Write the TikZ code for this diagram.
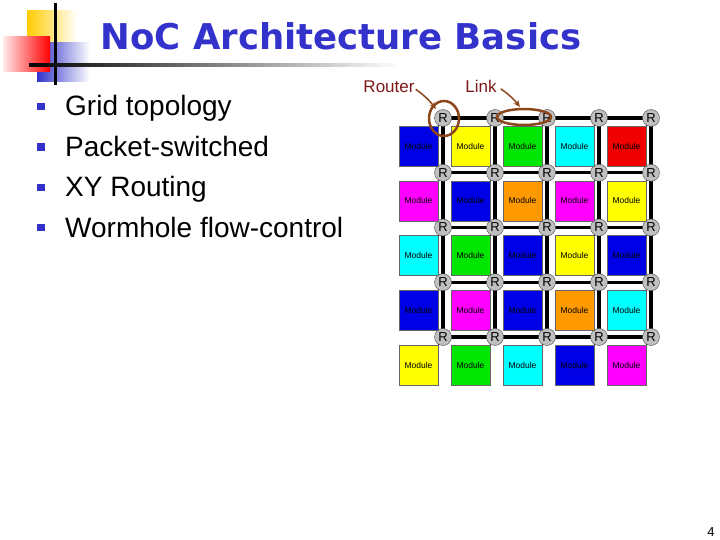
\documentclass[tikz,border=0pt]{standalone}
\usepackage{fontspec}
\setmainfont{Liberation Sans}
\newfontfamily\titlefont{DejaVu Sans}
\usetikzlibrary{calc,arrows.meta,backgrounds}

\definecolor{titleblue}{RGB}{51,51,204}
\definecolor{annotred}{RGB}{125,25,25}
\definecolor{ringbrown}{RGB}{140,70,25}
\definecolor{logoyellow}{RGB}{255,204,0}
\definecolor{mblue}{RGB}{0,0,230}
\definecolor{myellow}{RGB}{255,255,0}
\definecolor{mgreen}{RGB}{0,230,0}
\definecolor{mcyan}{RGB}{0,255,255}
\definecolor{mred}{RGB}{240,0,0}
\definecolor{mmagenta}{RGB}{255,0,255}
\definecolor{morange}{RGB}{255,153,0}

\tikzset{
    module/.style={draw=black!60, fill=#1, minimum width=39pt, minimum height=40pt,
        inner sep=0pt, font=\fontsize{8.5}{9}\selectfont},
    router/.style={circle, draw=black!70, fill=black!25, minimum size=17pt,
        inner sep=0pt, font=\fontsize{13}{13}\selectfont},
    wire/.style={line width=3.5pt, line cap=rect},
    ring/.style={ringbrown, line width=2.5pt},
    annot/.style={text=annotred, font=\fontsize{17}{17}\selectfont, inner sep=0pt},
    bulletbox/.style={fill=titleblue, minimum size=7.5pt, inner sep=0pt},
    itemtext/.style={font=\fontsize{28}{28}\selectfont, inner sep=0pt, anchor=base west},
}

\begin{document}
\begin{tikzpicture}[x=1pt, y=-1pt]
    \useasboundingbox (0,0) rectangle (720,540);

    % logo
    \shade[left color=logoyellow, middle color=logoyellow, right color=white] (27,11) rectangle (77,58);
    \shade[left color=titleblue, middle color=titleblue, right color=white] (37,43) rectangle (90,82);
    \shade[left color=red!8, right color=red] (3,37) rectangle (50,72);
    \draw[line width=3pt] (55,3) -- (55,85);
    \shade[left color=black, right color=white] (29,63.5) rectangle (400,66.5);

    % title
    \node[text=titleblue, font=\titlefont\bfseries\fontsize{35.5}{36}\selectfont, anchor=base, inner sep=0pt]
        (title) at (341,50) {NoC Architecture Basics};

    % bullets
    \foreach \t [count=\k from 0] in {Grid topology, Packet-switched, XY Routing, Wormhole flow-control} {
        \node[bulletbox] (bul-\k) at (41,{106.5+40.4*\k}) {};
        \node[itemtext] (item-\k) at (65,{116+40.4*\k}) {\t};
    }

    % routers
    \foreach \j in {0,...,4}
        \foreach \i in {0,...,4}
            \node[router] (r-\i-\j) at ({443+52*\i},{118+54.75*\j}) {R};

    % links (under the routers)
    \begin{scope}[on background layer]
    \foreach \j in {0,...,4} {
        \foreach \i [evaluate=\i as \n using int(\i+1)] in {0,...,3} {
            \draw[wire] (r-\i-\j.center) -- (r-\n-\j.center);
            \draw[wire] (r-\j-\i.center) -- (r-\j-\n.center);
        }
    }
    \end{scope}

    % modules
    \foreach \c [count=\k from 0] in {mblue,myellow,mgreen,mcyan,mred,
                                     mmagenta,mblue,morange,mmagenta,myellow,
                                     mcyan,mgreen,mblue,myellow,mblue,
                                     mblue,mmagenta,mblue,morange,mcyan,
                                     myellow,mgreen,mcyan,mblue,mmagenta} {
        \pgfmathtruncatemacro{\i}{mod(\k,5)}
        \pgfmathtruncatemacro{\j}{\k/5}
        \node[module=\c] (m-\i-\j) at ($(r-\i-\j)+(-24.5,28)$) {Module};
        \draw[line width=1pt] (m-\i-\j.north east) -- (r-\i-\j);
    }

    % annotations
    \node[annot, anchor=base] (router-lbl) at (389,93) {Router};
    \node[annot, anchor=base] (link-lbl) at (481,93) {Link};
    \draw[ring] ($(r-0-0)+(1,0.5)$) ellipse [x radius=15, y radius=17.5];
    \coordinate (link-mid) at ($(r-1-0)!0.5!(r-2-0)+(3,-1)$);
    \draw[ring] (link-mid) ellipse [x radius=27, y radius=8];
    \draw[ringbrown, line width=1.5pt, -{Stealth[length=7pt,width=6pt]}]
        ($(router-lbl.east)+(1,2)$) to[bend left=8] ($(r-0-0)+(-7,-9)$);
    \draw[ringbrown, line width=1.5pt, -{Stealth[length=7pt,width=6pt]}]
        ($(link-lbl.east)+(4,2)$) to[bend left=8] ($(link-mid)+(-4,-10)$);

    \node[font=\fontsize{13}{13}\selectfont, anchor=base, inner sep=0pt] (page) at (711,536) {4};
\end{tikzpicture}
\end{document}
